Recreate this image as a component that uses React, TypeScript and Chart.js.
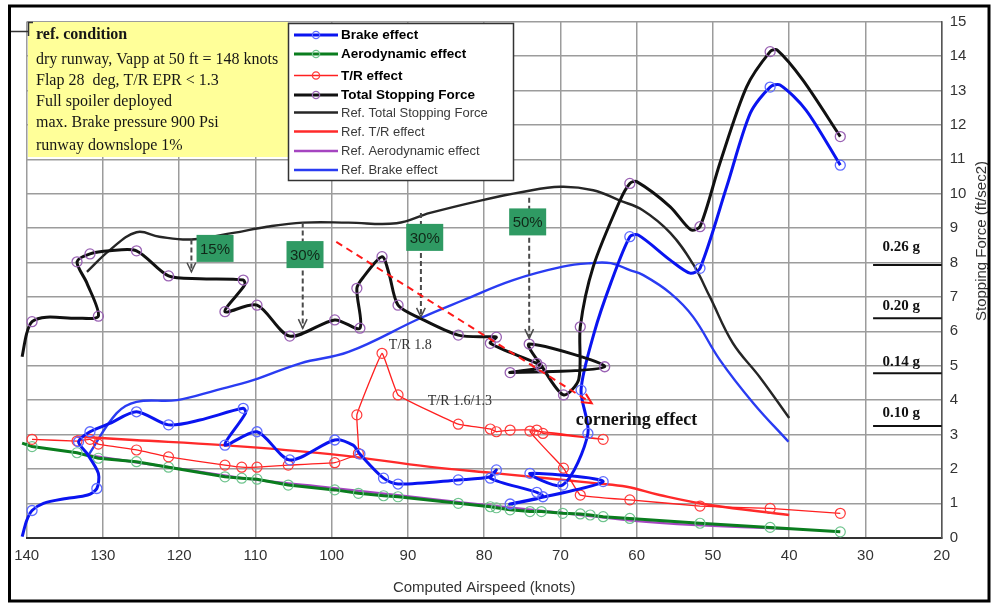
import React, { useEffect, useRef } from 'react';
import { Chart, registerables } from 'chart.js';

Chart.register(...registerables);

// ---------- data (x = computed airspeed, knots; y = stopping force, ft/sec2) ----------
const brakeSpeed = [140.6,140,139.3,137.8,134.8,132,130.8,130.6,132.1,133.2,131.7,129.1,125.6,121.4,117.3,111.6,111.3,114,109.8,105.5,99.6,97.2,96.3,93.2,91.3,83.4,79.2,78.4,79.2,73.1,72.3,76.6,64.4,74,69.7,66.4,67.3,65.6,63.4,60.9,59.8,55.6,53,51.7,48.2,45.1,42.5,41.2,37.8,33.3];
const brakeForce = [0.03,0.5,0.79,1.0,1.14,1.24,1.43,1.87,2.45,2.79,3.08,3.32,3.66,3.28,3.42,3.76,3.62,2.69,3.08,2.26,2.84,2.69,2.43,1.73,1.56,1.68,1.77,1.97,1.73,1.32,1.19,0.98,1.63,1.87,1.53,3.03,4.29,5.94,7.4,8.75,8.8,8.07,7.69,7.83,10.2,12.34,13.1,13.16,12.43,10.83];
const brakeMeasured = [0,0,1,0,0,0,1,0,0,1,1,0,1,1,0,1,0,1,1,1,1,0,1,1,1,1,0,1,1,1,1,1,1,1,1,1,1,0,0,1,0,0,0,1,0,0,1,0,0,1];

const totalSpeed = [140.6,140,139.3,137.4,133.4,130.6,132.1,133.4,131.7,129.1,125.6,121.4,117.3,111.6,111.4,114,109.8,105.5,99.6,96.3,96.7,95.8,93.4,92.5,91.3,88.4,83.4,79.2,78.4,79.2,73.1,72.5,76.6,64.2,74.1,72.5,69.6,67.6,67.4,65.7,62.2,60.9,60,55.6,52.9,51.7,49.1,45.6,42.5,41.6,38.2,33.3];
const totalForce = [5.26,5.94,6.28,6.41,6.38,6.44,7.40,8.02,8.25,8.34,8.34,7.61,7.53,7.49,7.35,6.57,6.76,5.86,6.33,6.09,7.25,7.59,8.17,7.69,6.76,6.38,5.89,5.84,5.83,5.65,5.07,4.95,4.8,4.97,5.63,5.0,4.15,4.6,6.13,7.88,9.8,10.3,10.35,9.62,8.95,9.04,10.88,13.1,14.13,14.18,13.3,11.66];
const totalMeasured = [0,0,1,0,0,1,0,1,1,0,1,1,0,1,0,1,1,1,1,1,1,0,1,0,1,0,1,0,1,1,1,1,1,1,1,0,1,0,1,0,0,1,0,0,0,1,0,0,1,0,0,1];

const aeroSpeed = [140.6,139.3,133.4,130.6,125.6,121.4,114,111.8,109.8,105.7,99.6,96.5,93.2,91.3,83.4,79.2,78.4,76.6,74,72.5,69.7,67.4,66.1,64.4,60.9,51.7,42.5,33.3];
const aeroForce = [2.75,2.65,2.47,2.31,2.21,2.05,1.77,1.73,1.70,1.53,1.39,1.29,1.22,1.19,1.0,0.9,0.87,0.81,0.76,0.76,0.71,0.69,0.66,0.61,0.56,0.42,0.30,0.17];

const trSpeed = [139.3,133.4,131.7,130.6,125.6,121.4,114,111.8,109.8,105.7,99.6,96.5,96.7,93.4,91.3,83.4,79.2,78.4,76.6,73.1,72.3,64.4,74,69.6,67.4,60.9,51.7,42.5,33.3];
const trForce = [2.86,2.81,2.86,2.72,2.55,2.35,2.11,2.05,2.05,2.11,2.18,2.45,3.57,5.36,4.15,3.30,3.16,3.08,3.13,3.13,3.03,2.86,3.1,2.02,1.24,1.10,0.92,0.85,0.71];

const refTotalSpeed = [132.1,129.1,125.6,122.6,118.4,112.9,108.5,103.8,97.8,91.5,87.1,80.5,75,70,65.7,62.2,59.2,55.6,52.6,50.4,47.4,43.9,40];
const refTotalForce = [7.73,8.36,8.88,8.75,8.67,8.86,9.04,9.16,9.16,9.14,9.44,9.8,10.05,10.2,10.1,9.8,9.52,8.86,7.95,7.0,5.66,4.68,3.48];

const refBrakeSpeed = [131.9,128.2,125.6,120.3,115.1,110.3,104.1,97.8,88.4,82.7,76.2,69.7,66.1,63.4,60.9,59.2,55.6,52.6,49.1,44.7,40.1];
const refBrakeForce = [2.4,3.62,3.95,4.0,4.29,4.58,5.07,5.4,6.38,6.91,7.49,7.88,7.98,7.98,7.78,7.64,7.11,6.42,5.17,3.91,2.79];

const refTRSpeed = [133.5,126,114.2,100.2,87.1,78.4,65.2,61.3,57,50.4,40];
const refTRForce = [2.94,2.84,2.69,2.43,2.06,1.87,1.58,1.48,1.24,0.95,0.66];

const refAeroSpeed = [132,121.6,109.8,100,82.7,69.7,57,40];
const refAeroForce = [2.4,2.06,1.68,1.45,1.02,0.72,0.43,0.25];

const xTitle = 'Computed Airspeed (knots)';
const yTitle = 'Stopping Force (ft/sec2)';

const conditionLines = [
  'ref. condition',
  'dry runway, Vapp at 50 ft = 148 knots',
  'Flap 28  deg, T/R EPR < 1.3',
  'Full spoiler deployed',
  'max. Brake pressure 900 Psi',
  'runway downslope 1%',
];

const legendNames = [
  'Brake effect', 'Aerodynamic effect', 'T/R effect', 'Total Stopping Force',
  'Ref. Total Stopping Force', 'Ref. T/R effect', 'Ref. Aerodynamic effect', 'Ref. Brake effect',
];

const gLabels = ['0.26 g', '0.20 g', '0.14 g', '0.10 g'];
const gLineLevels = [7.93, 6.38, 4.78, 3.25];
const gTextLevels = [8.45, 6.73, 5.11, 3.63];

// percentage call-outs: label, box centre (speed, force), arrow speed, arrow top, arrow bottom
const pctLabels = ['15%', '30%', '30%', '50%'];
const pctBoxSpeed = [115.3, 103.5, 87.8, 74.3];
const pctBoxForce = [8.41, 8.23, 8.73, 9.18];
const pctArrowSpeed = [118.4, 103.8, 88.3, 74.1];
const pctArrowTop = [8.67, 9.16, 9.44, 9.88];
const pctArrowBottom = [7.73, 6.09, 6.42, 5.8];

const SANS = "'Liberation Sans', Arial, sans-serif";
const SERIF = "'Liberation Serif', 'Times New Roman', serif";

const pts = (xs: number[], ys: number[]) => xs.map((x, i) => ({ x, y: ys[i] }));

const COL = {
  brake: '#0a14f0', brakeMk: '#5f6cff',
  aero: '#0a7d1e', aeroMk: '#6fc48e',
  tr: '#ff2020', trMk: '#ff3a3a',
  total: '#111111', totalMk: '#9a62b4',
  refTotal: '#262626', refTR: '#ff2a2a', refAero: '#a545c0', refBrake: '#2a3cf2',
};

function arrowHead(ctx: CanvasRenderingContext2D, x0: number, y0: number, x1: number, y1: number, size: number) {
  const a = Math.atan2(y1 - y0, x1 - x0);
  ctx.beginPath();
  ctx.moveTo(x1 - size * Math.cos(a - 0.45), y1 - size * Math.sin(a - 0.45));
  ctx.lineTo(x1, y1);
  ctx.lineTo(x1 - size * Math.cos(a + 0.45), y1 - size * Math.sin(a + 0.45));
  ctx.stroke();
}

const decor = {
  id: 'decor',
  afterDraw(chart: any) {
    const ctx: CanvasRenderingContext2D = chart.ctx;
    const xs = chart.scales.x;
    const ys = chart.scales.y;
    const px = (v: number) => xs.getPixelForValue(v);
    const py = (v: number) => ys.getPixelForValue(v);
    const area = chart.chartArea;
    ctx.save();

    // g-level markers
    for (let i = 0; i < gLabels.length; i++) {
      const y = py(gLineLevels[i]);
      ctx.strokeStyle = '#111';
      ctx.lineWidth = 2;
      ctx.beginPath();
      ctx.moveTo(px(29), y);
      ctx.lineTo(area.right, y);
      ctx.stroke();
      ctx.fillStyle = '#111';
      ctx.font = `bold 15px ${SERIF}`;
      ctx.textAlign = 'center';
      ctx.textBaseline = 'middle';
      ctx.fillText(gLabels[i], px(25.3), py(gTextLevels[i]));
    }

    // dashed percentage arrows
    for (let i = 0; i < pctLabels.length; i++) {
      const x = px(pctArrowSpeed[i]);
      const y0 = py(pctArrowTop[i]);
      const y1 = py(pctArrowBottom[i]);
      ctx.strokeStyle = '#4a4a4a';
      ctx.lineWidth = 2;
      ctx.setLineDash([5, 3]);
      ctx.beginPath();
      ctx.moveTo(x, y0);
      ctx.lineTo(x, y1);
      ctx.stroke();
      ctx.setLineDash([]);
      ctx.lineWidth = 1.5;
      arrowHead(ctx, x, y0, x, y1, 10);
    }
    // percentage boxes
    for (let i = 0; i < pctLabels.length; i++) {
      const cx = px(pctBoxSpeed[i]);
      const cy = py(pctBoxForce[i]);
      ctx.fillStyle = '#2f9a63';
      ctx.fillRect(cx - 18.5, cy - 13.5, 37, 27);
      ctx.fillStyle = '#102818';
      ctx.font = `15px ${SANS}`;
      ctx.textAlign = 'center';
      ctx.textBaseline = 'middle';
      ctx.fillText(pctLabels[i], cx, cy + 1);
    }

    // red dashed trend arrow
    {
      const x0 = px(99.4), y0 = py(8.6), x1 = px(65.9), y1 = py(3.91);
      ctx.strokeStyle = '#ff1a1a';
      ctx.lineWidth = 2;
      ctx.setLineDash([7, 5]);
      ctx.beginPath();
      ctx.moveTo(x0, y0);
      ctx.lineTo(x1, y1);
      ctx.stroke();
      ctx.setLineDash([]);
      arrowHead(ctx, x0, y0, x1, y1, 11);
    }

    // text notes
    ctx.fillStyle = '#333';
    ctx.font = `14px ${SERIF}`;
    ctx.textAlign = 'center';
    ctx.textBaseline = 'middle';
    ctx.fillText('T/R 1.8', px(89.7), py(5.6));
    ctx.fillText('T/R 1.6/1.3', px(83.2), py(3.95));
    ctx.fillStyle = '#111';
    ctx.font = `bold 18px ${SERIF}`;
    ctx.textAlign = 'left';
    ctx.fillText('cornering effect', px(68.0), py(3.42));

    // condition box
    ctx.fillStyle = '#ffff99';
    ctx.fillRect(28, 22, 260, 135);
    ctx.fillStyle = '#161616';
    ctx.textAlign = 'left';
    ctx.textBaseline = 'middle';
    const lineY = [35, 60, 81, 101.5, 123, 145.5];
    conditionLines.forEach((t, i) => {
      ctx.font = i === 0 ? `bold 16px ${SERIF}` : `16px ${SERIF}`;
      ctx.fillText(t, 36, lineY[i]);
    });
    ctx.strokeStyle = '#333';
    ctx.lineWidth = 1.5;
    ctx.beginPath();
    ctx.moveTo(10, 31.5);
    ctx.lineTo(28.5, 31.5);
    ctx.moveTo(33, 22.5);
    ctx.lineTo(28.5, 22.5);
    ctx.lineTo(28.5, 36);
    ctx.stroke();

    // legend
    const lx0 = 288.5, ly0 = 23.5, lw = 225, lh = 157;
    ctx.fillStyle = '#fff';
    ctx.fillRect(lx0, ly0, lw, lh);
    ctx.strokeStyle = '#333';
    ctx.lineWidth = 1.5;
    ctx.strokeRect(lx0, ly0, lw, lh);
    const rowY = [35, 54, 75.5, 95, 112.5, 131.5, 151, 170];
    const lineCol = [COL.brake, COL.aero, COL.tr, COL.total, COL.refTotal, COL.refTR, COL.refAero, COL.refBrake];
    const mkCol = [COL.brakeMk, COL.aeroMk, COL.trMk, COL.totalMk];
    legendNames.forEach((name, i) => {
      const y = rowY[i];
      ctx.strokeStyle = lineCol[i];
      ctx.lineWidth = i === 2 ? 1.6 : i < 4 ? 3 : 2.4;
      ctx.beginPath();
      ctx.moveTo(294, y);
      ctx.lineTo(338, y);
      ctx.stroke();
      if (i < 4) {
        ctx.strokeStyle = mkCol[i];
        ctx.lineWidth = 1.3;
        ctx.beginPath();
        ctx.arc(316, y, 3.6, 0, Math.PI * 2);
        ctx.stroke();
      }
      ctx.fillStyle = i < 4 ? '#000' : '#3a3a3a';
      ctx.font = i < 4 ? `bold 13.5px ${SANS}` : `13px ${SANS}`;
      ctx.textAlign = 'left';
      ctx.textBaseline = 'middle';
      ctx.fillText(name, 341, y + 0.5);
    });

    // axis titles
    ctx.fillStyle = '#333';
    ctx.font = `15px ${SANS}`;
    ctx.textAlign = 'center';
    ctx.textBaseline = 'middle';
    ctx.fillText(xTitle, (area.left + area.right) / 2, 588);
    ctx.save();
    ctx.translate(982, 241);
    ctx.rotate(-Math.PI / 2);
    ctx.fillText(yTitle, 0, 0);
    ctx.restore();

    // outer frame
    ctx.strokeStyle = '#000';
    ctx.lineWidth = 3;
    ctx.strokeRect(9.5, 6, 979.5, 595);
    ctx.restore();
  },
};

export default function App() {
  const ref = useRef<HTMLCanvasElement>(null);
  useEffect(() => {
    const canvas = ref.current!;
    const markRadius = (flags: number[]) => (c: any) => (flags[c.dataIndex] ? 5 : 0);
    const chart = new Chart(canvas, {
      type: 'scatter',
      data: {
        datasets: [
          { label: 'Total Stopping Force', data: pts(totalSpeed, totalForce), showLine: true, borderColor: COL.total, borderWidth: 3, tension: 0.28, pointRadius: markRadius(totalMeasured), pointBorderColor: COL.totalMk, pointBackgroundColor: 'rgba(0,0,0,0)', pointBorderWidth: 1.3, clip: false } as any,
          { label: 'Brake effect', data: pts(brakeSpeed, brakeForce), showLine: true, borderColor: COL.brake, borderWidth: 3, tension: 0.28, pointRadius: markRadius(brakeMeasured), pointBorderColor: COL.brakeMk, pointBackgroundColor: 'rgba(0,0,0,0)', pointBorderWidth: 1.3, clip: false },
          { label: 'T/R effect', data: pts(trSpeed, trForce), showLine: true, borderColor: COL.tr, borderWidth: 1.3, tension: 0.08, pointRadius: 5, pointBorderColor: COL.trMk, pointBackgroundColor: 'rgba(0,0,0,0)', pointBorderWidth: 1.2, clip: false },
          { label: 'Aerodynamic effect', data: pts(aeroSpeed, aeroForce), showLine: true, borderColor: COL.aero, borderWidth: 3, tension: 0, pointRadius: (c: any) => (c.dataIndex === 0 ? 0 : 5), pointBorderColor: COL.aeroMk, pointBackgroundColor: 'rgba(0,0,0,0)', pointBorderWidth: 1.2, clip: false },
          { label: 'Ref. Total Stopping Force', data: pts(refTotalSpeed, refTotalForce), showLine: true, borderColor: COL.refTotal, borderWidth: 2.4, tension: 0.4, pointRadius: 0 },
          { label: 'Ref. T/R effect', data: pts(refTRSpeed, refTRForce), showLine: true, borderColor: COL.refTR, borderWidth: 2.4, tension: 0.4, pointRadius: 0 },
          { label: 'Ref. Aerodynamic effect', data: pts(refAeroSpeed, refAeroForce), showLine: true, borderColor: COL.refAero, borderWidth: 2.4, tension: 0.4, pointRadius: 0 },
          { label: 'Ref. Brake effect', data: pts(refBrakeSpeed, refBrakeForce), showLine: true, borderColor: COL.refBrake, borderWidth: 2.4, tension: 0.4, pointRadius: 0 },
        ],
      },
      options: {
        animation: false,
        responsive: false,
        layout: { padding: { left: 26.7, top: 21.7, right: 0, bottom: 0 } },
        plugins: { legend: { display: false }, tooltip: { enabled: false } },
        scales: {
          x: {
            type: 'linear', min: 20, max: 140, reverse: true, position: 'bottom',
            afterFit: (s: any) => { s.height = 68.3; },
            ticks: { stepSize: 10, padding: 9, color: '#333', font: { family: SANS, size: 15 } },
            grid: { color: '#9c9c9c', lineWidth: 1.5, drawTicks: false },
            border: { color: '#333', width: 2 },
          },
          y: {
            type: 'linear', min: 0, max: 15, position: 'right',
            afterFit: (s: any) => { s.width = 51.3; },
            ticks: { stepSize: 1, padding: 8, color: '#333', font: { family: SANS, size: 15 } },
            grid: { color: '#9c9c9c', lineWidth: 1.5, drawTicks: false },
            border: { color: '#555', width: 1.5 },
          },
        },
      } as any,
      plugins: [decor],
    });
    return () => chart.destroy();
  }, []);
  return (
    <div style={{ position: 'fixed', left: 0, top: 0, width: 993, height: 606, background: '#fff' }}>
      <canvas ref={ref} width={993} height={606} style={{ width: 993, height: 606, display: 'block' }} />
    </div>
  );
}
